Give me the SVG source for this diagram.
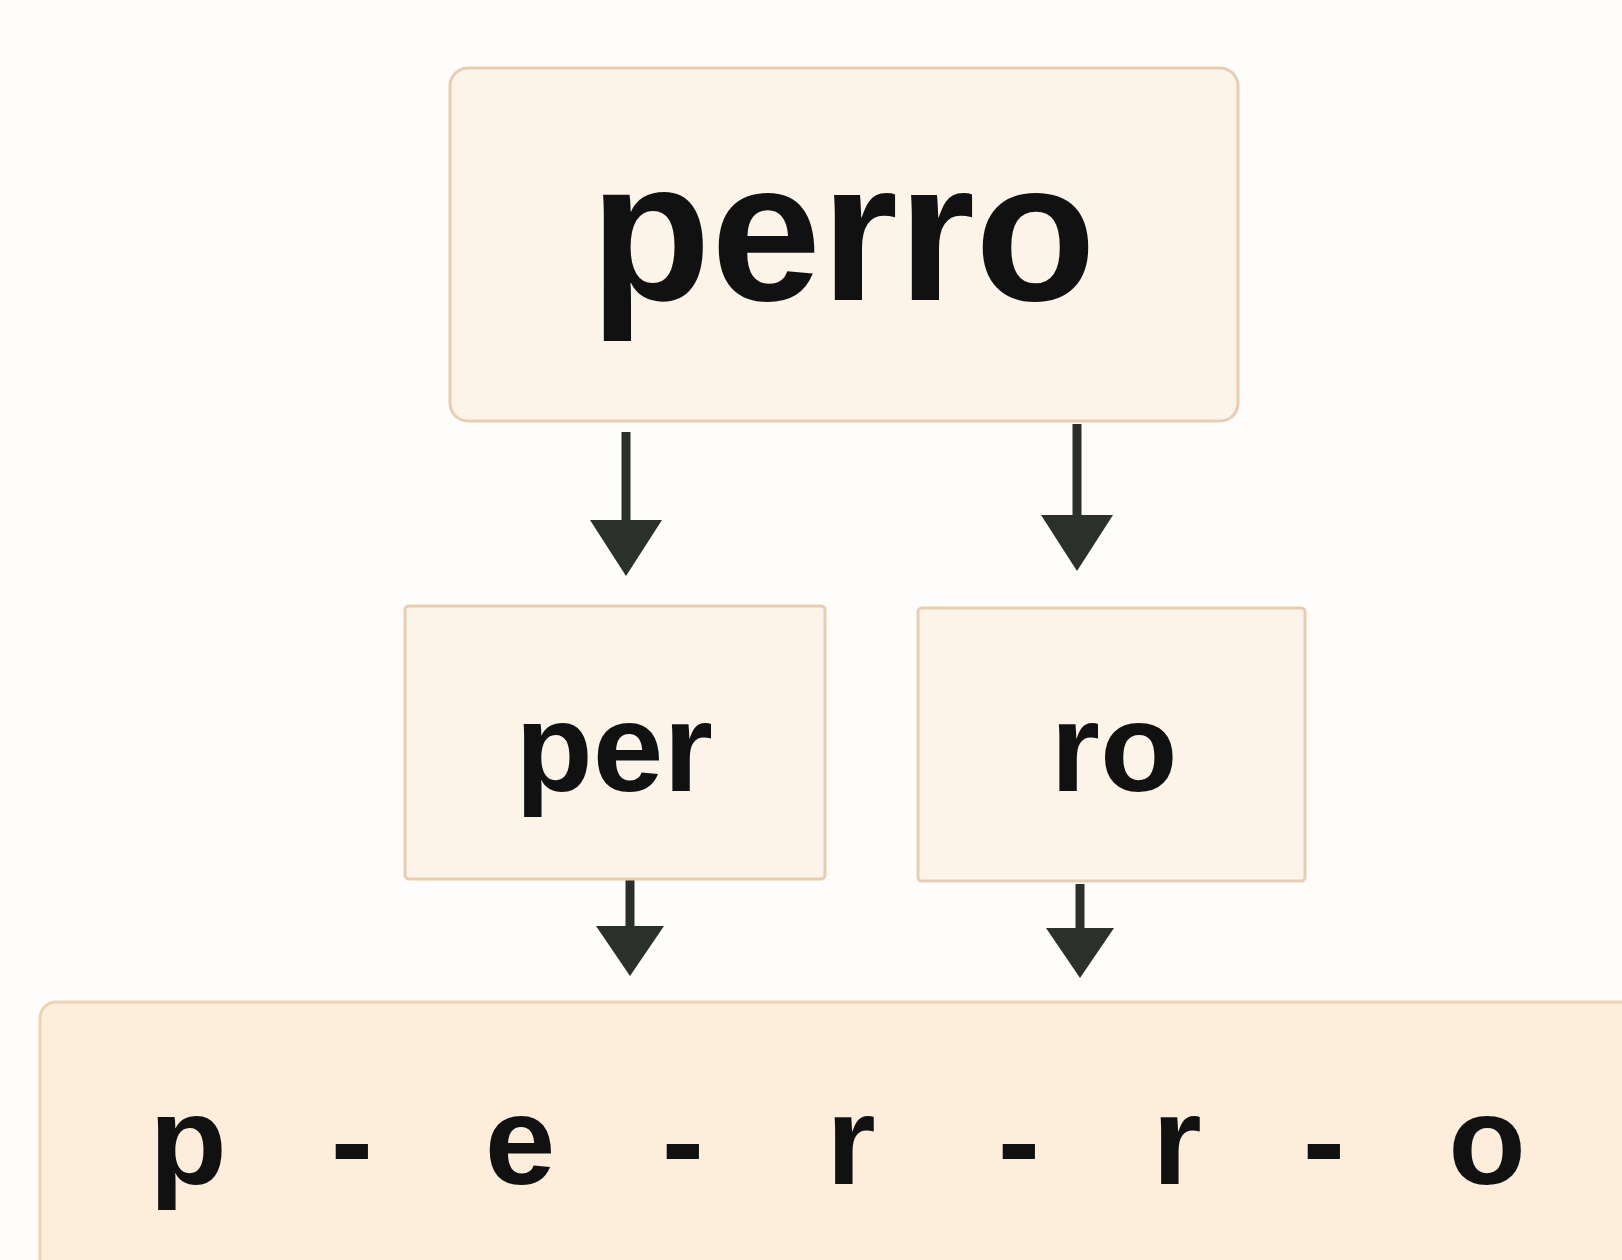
<svg xmlns="http://www.w3.org/2000/svg" width="1622" height="1260" viewBox="0 0 1622 1260">
  <defs>
    <style>
      .box { fill: #FCF4E8; stroke: #E9CDB0; stroke-width: 3; }
      .boxb { fill: #FCEEDA; stroke: #EDD3B2; stroke-width: 3; }
      .lbl { font-family: "Liberation Sans", Arial, sans-serif; font-weight: bold; fill: #111111; text-anchor: middle; }
      .edge { stroke: #2B302C; stroke-width: 9; fill: none; }
    </style>
    <marker id="ah" viewBox="0 0 56 72" refX="2" refY="36" markerWidth="56" markerHeight="72" markerUnits="userSpaceOnUse" orient="auto">
      <path d="M0,0 L56,36 L0,72 Z" fill="#2B302C"/>
    </marker>
    <marker id="ahs" viewBox="0 0 50 68" refX="2" refY="34" markerWidth="50" markerHeight="68" markerUnits="userSpaceOnUse" orient="auto">
      <path d="M0,0 L50,34 L0,68 Z" fill="#2B302C"/>
    </marker>
  </defs>
  <rect width="1622" height="1260" fill="#FEFDFB"/>

  <g id="connectors">
    <line class="edge" x1="626" y1="432" x2="626" y2="522" marker-end="url(#ah)"/>
    <line class="edge" x1="1077" y1="424" x2="1077" y2="517" marker-end="url(#ah)"/>
    <line class="edge" x1="630" y1="880" x2="630" y2="928" marker-end="url(#ahs)"/>
    <line class="edge" x1="1080" y1="884" x2="1080" y2="930" marker-end="url(#ahs)"/>
  </g>

  <g id="node-perro">
    <rect class="box" x="450" y="68" width="788" height="353" rx="18"/>
    <text class="lbl" x="843" y="300" font-size="198">perro</text>
  </g>

  <g id="node-per">
    <rect class="box" x="405" y="606" width="420" height="273" rx="4"/>
    <text class="lbl" x="614" y="791" font-size="127">per</text>
  </g>

  <g id="node-ro">
    <rect class="box" x="918" y="608" width="387" height="273" rx="4"/>
    <text class="lbl" x="1114" y="791" font-size="127">ro</text>
  </g>

  <g id="node-letters">
    <rect class="boxb" x="40" y="1002" width="1600" height="290" rx="16"/>
    <text class="lbl" y="1184" font-size="127"><tspan x="188">p</tspan><tspan x="352">-</tspan><tspan x="520">e</tspan><tspan x="683">-</tspan><tspan x="851">r</tspan><tspan x="1019">-</tspan><tspan x="1177">r</tspan><tspan x="1324">-</tspan><tspan x="1487">o</tspan></text>
  </g>
</svg>
